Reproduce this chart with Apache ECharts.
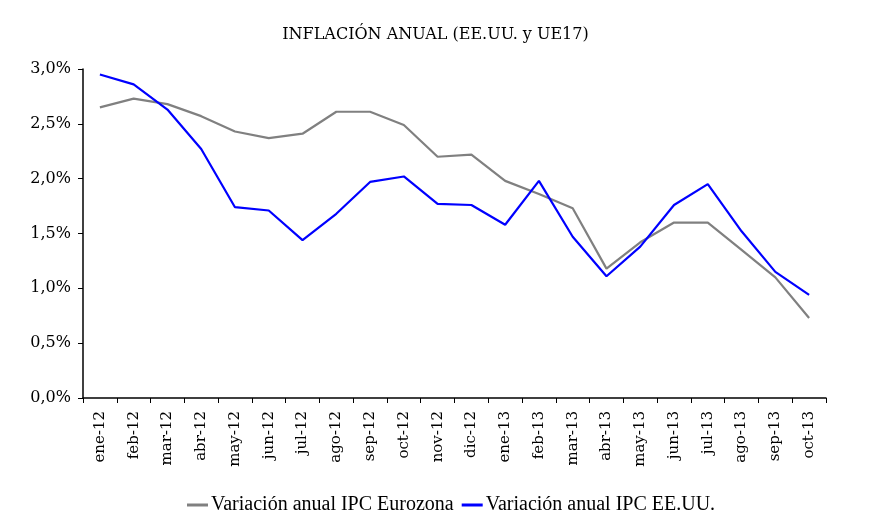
<!DOCTYPE html>
<html><head><meta charset="utf-8">
<script src="https://cdn.jsdelivr.net/npm/echarts@6/dist/echarts.min.js"></script>
<style>html,body{margin:0;padding:0;background:#fff}#c{width:871px;height:530px}</style>
</head><body><div id="c"></div>
<script>
var categories = ['ene-12','feb-12','mar-12','abr-12','may-12','jun-12','jul-12','ago-12','sep-12','oct-12','nov-12','dic-12','ene-13','feb-13','mar-13','abr-13','may-13','jun-13','jul-13','ago-13','sep-13','oct-13'];
var eurozona = [2.65,2.73,2.68,2.57,2.43,2.37,2.41,2.61,2.61,2.49,2.20,2.22,1.98,1.86,1.73,1.18,1.42,1.60,1.60,1.35,1.10,0.73];
var eeuu = [2.95,2.86,2.63,2.27,1.74,1.71,1.44,1.68,1.97,2.02,1.77,1.76,1.58,1.98,1.47,1.11,1.38,1.76,1.95,1.52,1.15,0.94];
var seriesNames = ['Variación anual IPC Eurozona','Variación anual IPC EE.UU.'];
var titleText = 'INFLACIÓN ANUAL (EE.UU. y UE17)';
var SERIF = '"DejaVu Serif", "Liberation Serif", serif';

var chart = echarts.init(document.getElementById('c'), null, {renderer:'canvas'});
chart.setOption({
  animation: false,
  backgroundColor: '#fff',
  title: {text: titleText, left: 'center', top: 22,
    textStyle: {fontFamily: SERIF, fontSize: 16, fontWeight: 'normal', color: '#000'}},
  legend: {bottom: 10, left: 182, itemWidth: 21, itemHeight: 3, itemGap: 8, icon: 'rect',
    textStyle: {fontFamily: '"Liberation Serif", serif', fontSize: 20, color: '#000', padding:[0,0,0,-2]},
    data: seriesNames},
  grid: {left: 83, right: 45, top: 69, bottom: 132, containLabel: false},
  xAxis: {type: 'category', data: categories, boundaryGap: true,
    axisLine: {lineStyle: {color: '#000', width: 1.5}},
    axisTick: {show: true, alignWithLabel: false, length: 5, lineStyle: {color: '#000'}},
    axisLabel: {rotate: 90, interval: 0, margin: 13, fontFamily: SERIF, fontSize: 15, color: '#000'},
    splitLine: {show: false}},
  yAxis: {type: 'value', min: 0, max: 3, interval: 0.5,
    axisLine: {show: true, lineStyle: {color: '#000', width: 1.5}},
    axisTick: {show: true, length: 5, lineStyle: {color: '#000'}},
    axisLabel: {margin: 12, fontFamily: SERIF, fontSize: 16, color: '#000',
      formatter: function(v){ return v.toFixed(1).replace('.', ',') + '%'; }},
    splitLine: {show: false}},
  series: [
    {name: seriesNames[0], type: 'line', data: eurozona, symbol: 'none', color: '#808080',
      lineStyle: {color: '#808080', width: 2.2}},
    {name: seriesNames[1], type: 'line', data: eeuu, symbol: 'none', color: '#0000ff',
      lineStyle: {color: '#0000ff', width: 2.2}}
  ]
});
</script></body></html>
